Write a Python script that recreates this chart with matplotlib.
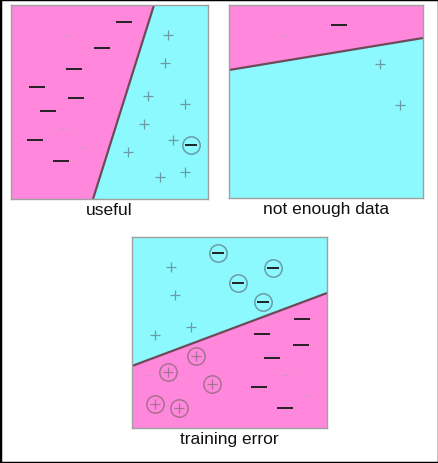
import matplotlib
matplotlib.use("Agg")
import matplotlib.pyplot as plt
from matplotlib.patches import Rectangle

PINK = "#ff88dd"
CYAN = "#8cf9ff"
LINE = "#6e4a58"
PLUS_CYAN = "#6a9ca6"
PLUS_PINK = "#a7718f"

# panel boxes in picture pixels: x0, x1, y0 (top), y1 (bottom)
boxes = [(11, 208, 6, 200), (229, 423, 6, 199), (132, 327, 238, 429)]
titles = ["useful", "not enough data", "training error"]

# boundary line end points (x, y) for each panel
bound_x = [[154, 93], [229, 423], [132, 327]]
bound_y = [[6, 200], [71, 39], [367, 294]]

# panel 1
p1_minus_x = [124.3, 102, 74, 37.3, 76.3, 47.7, 34.7, 60.7]
p1_minus_y = [23, 49, 70, 88.3, 99, 112, 140.7, 162]
p1_circ_minus_x = [191.3]
p1_circ_minus_y = [145.7]
p1_faint_x = [66.7, 63, 83.3]
p1_faint_y = [36, 129, 149]
p1_plus_x = [168.3, 164.7, 148.3, 184.7, 143.7, 172.7, 127.7, 160.3, 185.3]
p1_plus_y = [36, 64.3, 97, 105, 125.3, 141.3, 153.3, 178.3, 173.3]

# panel 2
p2_minus_x = [339]
p2_minus_y = [26]
p2_faint_x = [283.3]
p2_faint_y = [36]
p2_plus_x = [380.3, 400.3]
p2_plus_y = [65, 105.7]

# panel 3
p3_circ_minus_x = [218.3, 273.3, 238, 263.3]
p3_circ_minus_y = [253.7, 268.7, 283.7, 303.3]
p3_plus_x = [171, 175, 191.3, 154.7]
p3_plus_y = [268, 295.7, 328.3, 336.3]
p3_circ_plus_x = [196, 167.7, 211.7, 154.7, 178.7]
p3_circ_plus_y = [357, 372.7, 384.7, 405, 408.7]
p3_minus_x = [301.7, 262, 300.7, 272.3, 259.3, 284.7]
p3_minus_y = [320.3, 335, 346, 359.3, 387.7, 408.7]
p3_faint_x = [149.3, 286.3, 307]
p3_faint_y = [376, 376, 396.3]

W, H = 439, 464
fig = plt.figure(figsize=(W / 100, H / 100), dpi=100)
fig.patch.set_facecolor("white")

axes = []
for (x0, x1, y0, y1) in boxes:
    ax = fig.add_axes([x0 / W, 1 - y1 / H, (x1 - x0) / W, (y1 - y0) / H])
    ax.set_xlim(x0, x1)
    ax.set_ylim(y1, y0)
    ax.set_xticks([])
    ax.set_yticks([])
    for s in ax.spines.values():
        s.set_color("#a0a0a0")
        s.set_linewidth(1.0)
    axes.append(ax)

ax1, ax2, ax3 = axes

# region fills
x0, x1, y0, y1 = boxes[0]
ax1.set_facecolor(CYAN)
ax1.fill([x0, bound_x[0][0], bound_x[0][1], x0], [y0, bound_y[0][0], bound_y[0][1], y1],
         color=PINK, lw=0)

x0, x1, y0, y1 = boxes[1]
ax2.set_facecolor(CYAN)
ax2.fill([x0, x0, x1, x1], [y0, bound_y[1][0], bound_y[1][1], y0], color=PINK, lw=0)

x0, x1, y0, y1 = boxes[2]
ax3.set_facecolor(CYAN)
ax3.fill([x0, x0, x1, x1], [y1, bound_y[2][0], bound_y[2][1], y1], color=PINK, lw=0)

for ax, bx, by in zip(axes, bound_x, bound_y):
    ax.plot(bx, by, color=LINE, lw=1.6, solid_capstyle="butt")

minus_kw = dict(ls="none", marker="_", ms=11, mew=1.4, color="#222222")
small_minus_kw = dict(ls="none", marker="_", ms=8, mew=1.4, color="#222222")
plus_kw = dict(ls="none", marker="+", ms=7, mew=0.9)
faint_kw = dict(ls="none", marker="_", ms=4, mew=0.6, color="#cc98b8")
circle_kw = dict(ls="none", marker="o", ms=12.5, mew=1.1, mfc="none")

# panel 1
ax1.plot(p1_minus_x, p1_minus_y, **minus_kw)
ax1.plot(p1_faint_x, p1_faint_y, **faint_kw)
ax1.plot(p1_plus_x, p1_plus_y, color=PLUS_CYAN, **plus_kw)
ax1.plot(p1_circ_minus_x, p1_circ_minus_y, **small_minus_kw)
ax1.plot(p1_circ_minus_x, p1_circ_minus_y, mec=PLUS_CYAN, **circle_kw)

# panel 2
ax2.plot(p2_minus_x, p2_minus_y, **minus_kw)
ax2.plot(p2_faint_x, p2_faint_y, **faint_kw)
ax2.plot(p2_plus_x, p2_plus_y, color=PLUS_CYAN, **plus_kw)

# panel 3
ax3.plot(p3_circ_minus_x, p3_circ_minus_y, **small_minus_kw)
ax3.plot(p3_circ_minus_x, p3_circ_minus_y, mec=PLUS_CYAN, **circle_kw)
ax3.plot(p3_plus_x, p3_plus_y, color=PLUS_CYAN, **plus_kw)
ax3.plot(p3_circ_plus_x, p3_circ_plus_y, color=PLUS_PINK, **plus_kw)
ax3.plot(p3_circ_plus_x, p3_circ_plus_y, mec=PLUS_PINK, **circle_kw)
ax3.plot(p3_minus_x, p3_minus_y, **minus_kw)
ax3.plot(p3_faint_x, p3_faint_y, **faint_kw)

for ax, t in zip(axes, titles):
    ax.set_xlabel(t, fontsize=12.5, family="Liberation Sans", color="#111111", labelpad=2)

# black frame around the whole picture
fig.patches.append(Rectangle((0, 0), 1, 1, transform=fig.transFigure, fill=False,
                             edgecolor="black", lw=2.5))

fig.savefig("out.png", dpi=100)
